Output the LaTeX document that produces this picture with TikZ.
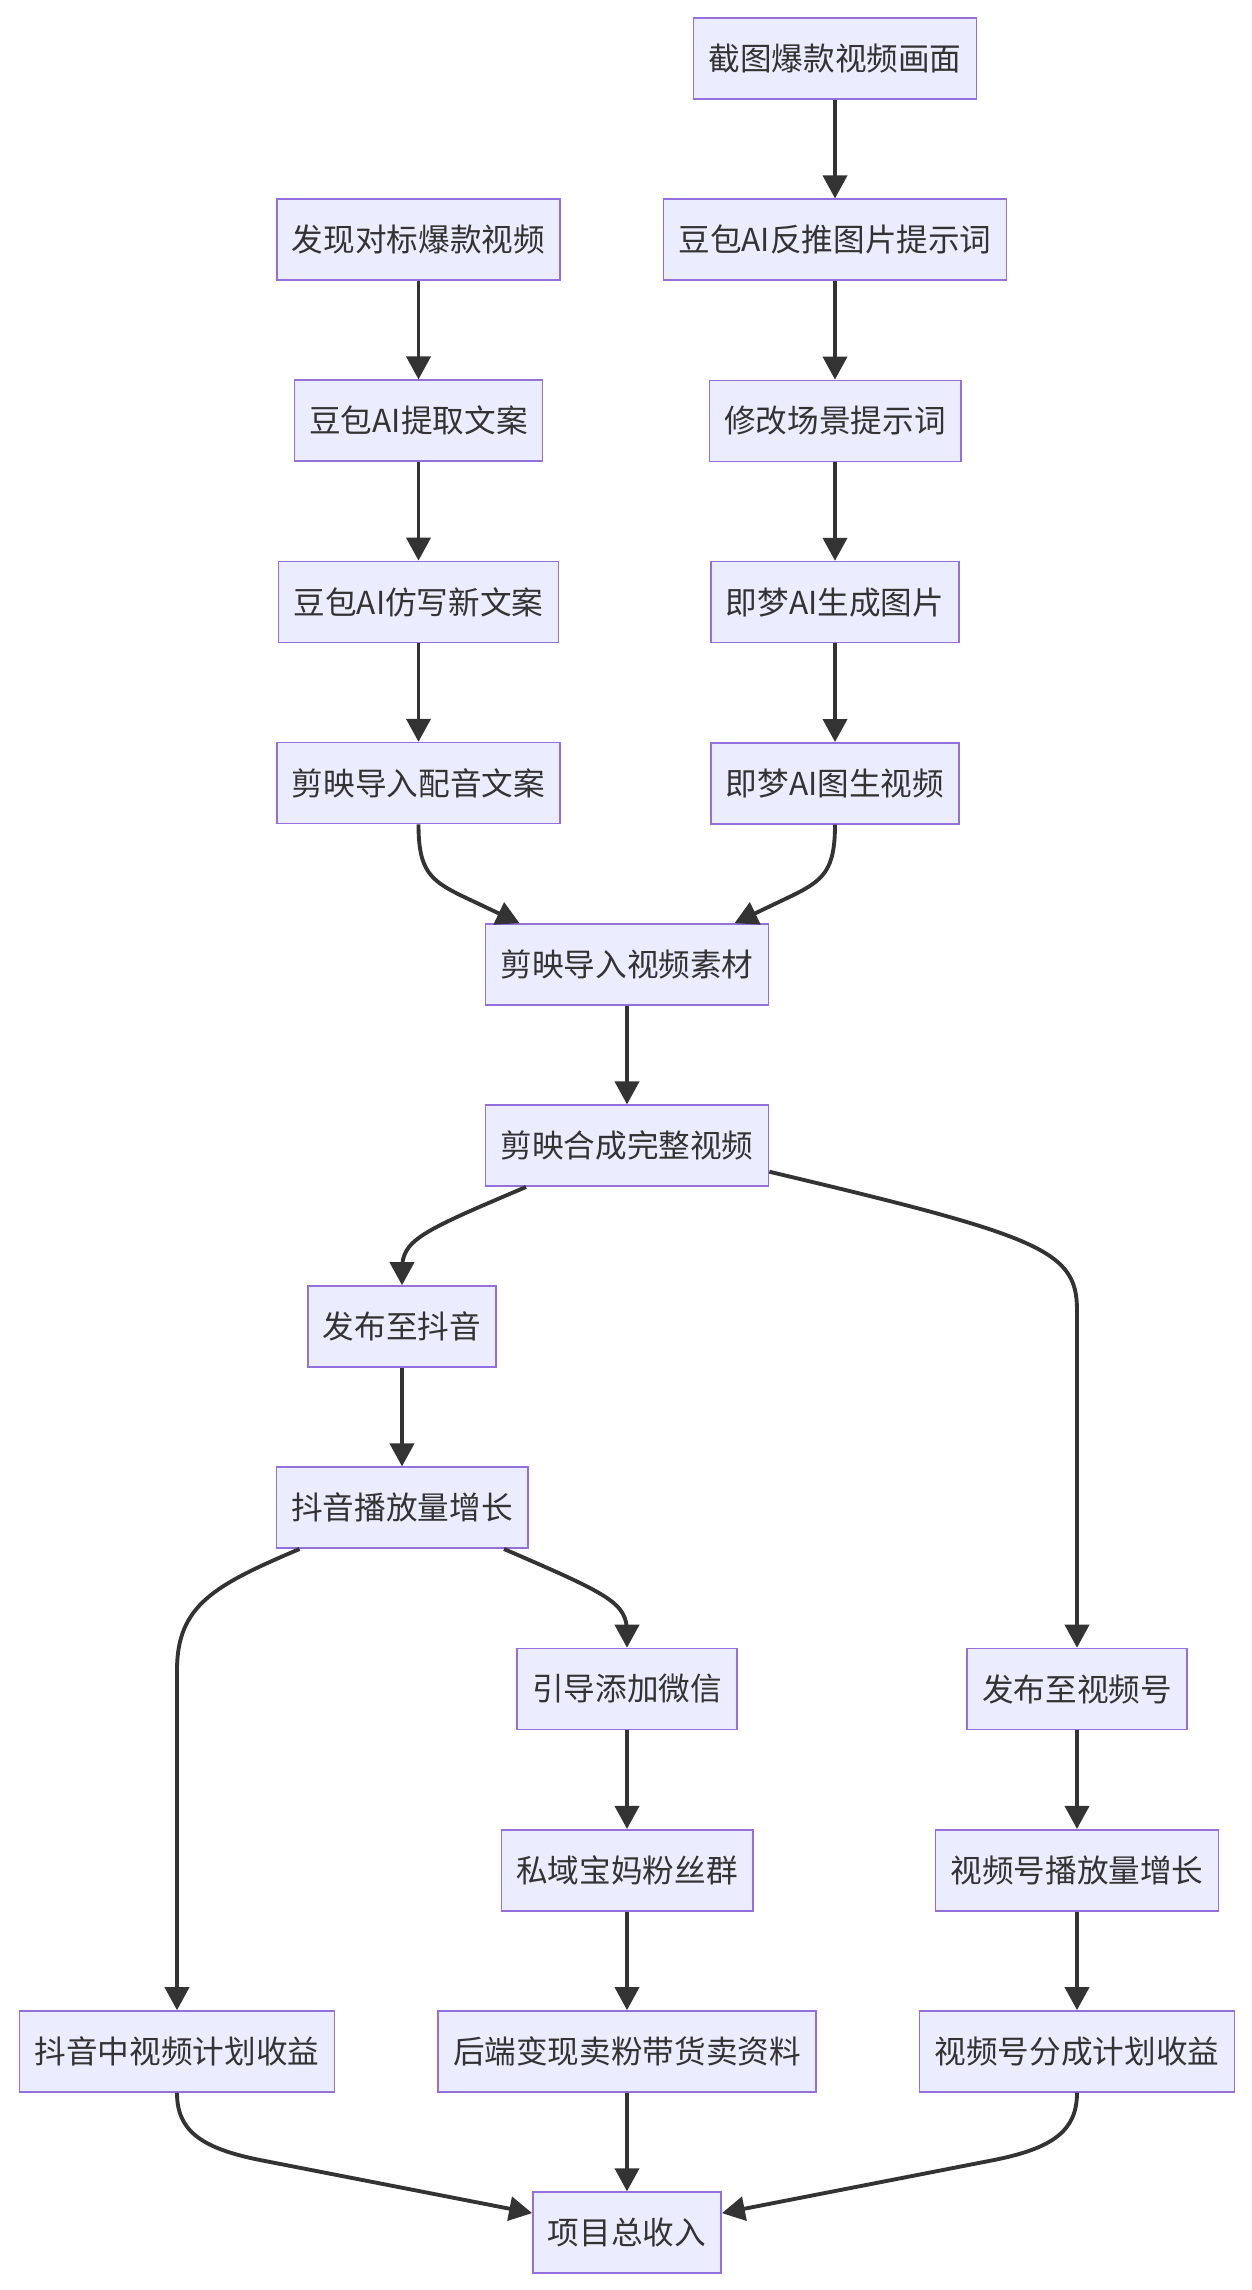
\documentclass[tikz,border=0pt]{standalone}
\usepackage{fontspec}
\setmainfont{Noto Sans CJK SC}
\usetikzlibrary{positioning, arrows.meta}

\definecolor{boxfill}{HTML}{ECECFF}
\definecolor{boxline}{HTML}{9370DB}
\definecolor{ink}{HTML}{333333}

\begin{document}
\begin{tikzpicture}[
    ->,
    >={Triangle[length=0.46cm, width=0.48cm]},
    node distance=3.624cm,
    on grid,
    line width=2.2pt,
    color=ink,
    box/.style={
        draw=boxline,
        fill=boxfill,
        line width=0.9pt,
        minimum height=1.62cm,
        inner xsep=0.3cm,
        inner ysep=0pt,
        text=ink,
        font=\fontsize{18}{22}\selectfont,
    },
]
\useasboundingbox (0,0) rectangle (25.04,-45.8);

% --- Image branch ---
\node[box]                    (jietu)   at (16.70,-1.17) {截图爆款视频画面};
\node[box]                    (fantui)  [below=of jietu]   {豆包AI反推图片提示词};
\node[box]                    (xiugai)  [below=of fantui]  {修改场景提示词};
\node[box]                    (shengtu) [below=of xiugai]  {即梦AI生成图片};
\node[box]                    (tusheng) [below=of shengtu] {即梦AI图生视频};

% --- Script branch ---
\node[box]                    (faxian)  at (8.37,-4.79)    {发现对标爆款视频};
\node[box]                    (tiqu)    [below=of faxian]  {豆包AI提取文案};
\node[box]                    (fangxie) [below=of tiqu]    {豆包AI仿写新文案};
\node[box]                    (peiyin)  [below=of fangxie] {剪映导入配音文案};

% --- Editing ---
\node[box]                    (sucai)   at (12.54,-19.29)  {剪映导入视频素材};
\node[box]                    (hecheng) [below=of sucai]   {剪映合成完整视频};

% --- Douyin ---
\node[box]                    (douyin)  at (8.04,-26.53)   {发布至抖音};
\node[box]                    (dyzeng)  [below=of douyin]  {抖音播放量增长};
\node[box]                    (weixin)  at (12.54,-33.78)  {引导添加微信};
\node[box]                    (siyu)    [below=of weixin]  {私域宝妈粉丝群};
\node[box]                    (houduan) [below=of siyu]    {后端变现卖粉带货卖资料};
\node[box]                    (zhongsp) at (3.54,-41.03)   {抖音中视频计划收益};

% --- Shipinhao ---
\node[box]                    (sphao)   at (21.54,-33.78)  {发布至视频号};
\node[box]                    (spzeng)  [below=of sphao]   {视频号播放量增长};
\node[box]                    (spfen)   [below=of spzeng]  {视频号分成计划收益};

% --- Total ---
\node[box]                    (zong)    [below=of houduan] {项目总收入};

% --- Straight links ---
\path
    (jietu)   edge (fantui)
    (fantui)  edge (xiugai)
    (xiugai)  edge (shengtu)
    (shengtu) edge (tusheng)
    (faxian)  edge (tiqu)
    (tiqu)    edge (fangxie)
    (fangxie) edge (peiyin)
    (sucai)   edge (hecheng)
    (douyin)  edge (dyzeng)
    (weixin)  edge (siyu)
    (siyu)    edge (houduan)
    (houduan) edge (zong)
    (sphao)   edge (spzeng)
    (spzeng)  edge (spfen)
;

% --- Curved links ---
\draw (peiyin.south) .. controls (8.37,-17.4) and (8.6,-17.6) .. (9.2,-17.9)
    -- ([xshift=-2.15cm]sucai.north);
\draw (tusheng.south) .. controls (16.70,-17.4) and (16.47,-17.6) .. (15.87,-17.9)
    -- ([xshift=2.15cm]sucai.north);
\draw ([xshift=-2.02cm]hecheng.south) .. controls (8.4,-24.64) and (8.04,-24.8) .. (8.04,-25.4)
    -- (douyin.north);
\draw ([yshift=-0.52cm]hecheng.east) .. controls (20.8,-24.72) and (21.54,-25.0) .. (21.54,-26.2)
    -- (sphao.north);
\draw ([xshift=-2.05cm]dyzeng.south) .. controls (4.3,-31.7) and (3.54,-32.1) .. (3.54,-33.4)
    -- (zhongsp.north);
\draw ([xshift=2.04cm]dyzeng.south) .. controls (12.18,-31.89) and (12.54,-32.05) .. (12.54,-32.65)
    -- (weixin.north);
\draw (zhongsp.south) .. controls (3.54,-42.6) and (4.0,-42.96) .. (5.2,-43.2)
    -- ([yshift=0.39cm]zong.west);
\draw (spfen.south) .. controls (21.54,-42.6) and (21.08,-42.96) .. (19.88,-43.2)
    -- ([yshift=0.39cm]zong.east);

\end{tikzpicture}
\end{document}
